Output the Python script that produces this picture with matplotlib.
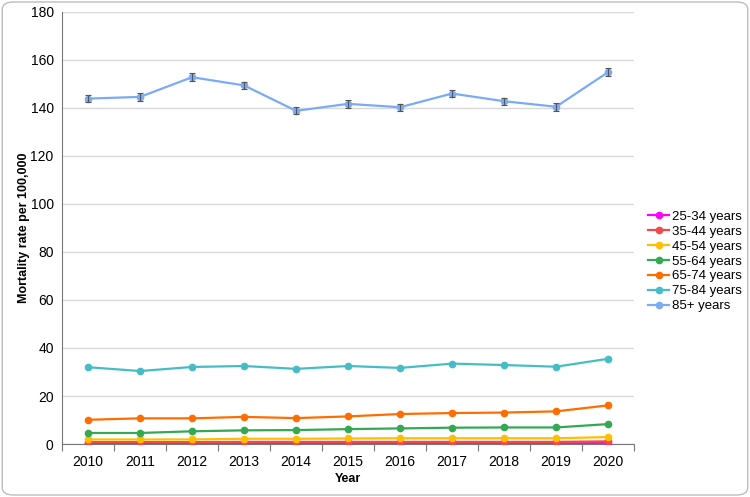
import matplotlib

matplotlib.use("Agg")
import matplotlib.pyplot as plt
from matplotlib.lines import Line2D
from matplotlib.patches import FancyBboxPatch
import numpy as np

plt.rcParams["font.family"] = ["Liberation Sans", "DejaVu Sans"]

years = ["2010", "2011", "2012", "2013", "2014", "2015", "2016", "2017", "2018", "2019", "2020"]

age_25_34 = [0.4, 0.4, 0.4, 0.4, 0.4, 0.4, 0.4, 0.4, 0.4, 0.4, 0.5]
age_35_44 = [0.8, 0.8, 0.8, 0.9, 0.9, 0.9, 0.9, 0.9, 0.9, 0.9, 1.1]
age_45_54 = [1.9, 1.9, 1.9, 2.2, 2.2, 2.3, 2.4, 2.4, 2.4, 2.4, 2.9]
age_55_64 = [4.6, 4.6, 5.3, 5.7, 5.8, 6.2, 6.5, 6.8, 6.9, 6.9, 8.3]
age_65_74 = [10.1, 10.7, 10.7, 11.3, 10.8, 11.5, 12.5, 12.9, 13.1, 13.6, 16.1]
age_75_84 = [32.0, 30.4, 32.1, 32.5, 31.3, 32.5, 31.7, 33.5, 32.9, 32.2, 35.5]
age_85_plus = [143.9, 144.6, 152.8, 149.4, 138.8, 141.7, 140.3, 146.0, 142.8, 140.5, 154.9]
err_85_plus = [1.6, 1.6, 1.6, 1.6, 1.4, 1.6, 1.5, 1.5, 1.5, 1.6, 1.6]

series = [
    ("25-34 years", age_25_34, "#ff00ff"),
    ("35-44 years", age_35_44, "#f04a4a"),
    ("45-54 years", age_45_54, "#ffbf00"),
    ("55-64 years", age_55_64, "#34a853"),
    ("65-74 years", age_65_74, "#ff6d01"),
    ("75-84 years", age_75_84, "#46bdc6"),
    ("85+ years", age_85_plus, "#7baaf7"),
]

fig = plt.figure(figsize=(7.5, 4.97), dpi=100)
ax = fig.add_axes([0.0827, 0.1066, 0.7627, 0.8694])

x = np.arange(len(years))
handles = []
for label, values, color in series:
    if label == "85+ years":
        ax.errorbar(x, values, yerr=err_85_plus, fmt="none", ecolor="#555555",
                    elinewidth=0.8, capsize=2.2, capthick=0.8, zorder=4)
    ax.plot(x, values, color=color, lw=1.6, marker="o", markersize=4.5, zorder=3)
    handles.append(Line2D([], [], color=color, lw=1.6, marker="o", markersize=4.5, label=label))

ax.set_xlim(-0.5, len(years) - 0.5)
ax.set_ylim(0, 180)
ax.set_yticks(range(0, 181, 20))
ax.set_xticks(x)
ax.set_xticklabels(years)
ax.set_xticks(np.arange(-0.5, len(years), 1), minor=True)
ax.tick_params(axis="x", which="major", length=0, labelsize=10, pad=8)
ax.tick_params(axis="x", which="minor", length=5, color="#777777", width=0.8)
ax.tick_params(axis="y", length=0, labelsize=10, pad=6)

ax.grid(axis="y", color="#d9d9d9", lw=1)
ax.set_axisbelow(True)
for side in ["top", "right"]:
    ax.spines[side].set_visible(False)
ax.spines["left"].set_color("#777777")
ax.spines["bottom"].set_color("#777777")

ax.set_xlabel("Year", fontweight="bold", fontsize=9, labelpad=3)
ax.set_ylabel("Mortality rate per 100,000", fontweight="bold", fontsize=9, labelpad=0)

ax.legend(handles=handles, loc="center left", bbox_to_anchor=(1.0157, 0.4226),
          borderaxespad=0, frameon=False, fontsize=9.5, handlelength=1.6,
          handletextpad=0.2, labelspacing=0.2)

border = FancyBboxPatch((0.003, 0.004), 0.994, 0.992, boxstyle="round,pad=0,rounding_size=0.015",
                        transform=fig.transFigure, fill=False, ec="#bdbdbd", lw=1)
fig.patches.append(border)

fig.savefig("out.png", dpi=100, facecolor="white")
